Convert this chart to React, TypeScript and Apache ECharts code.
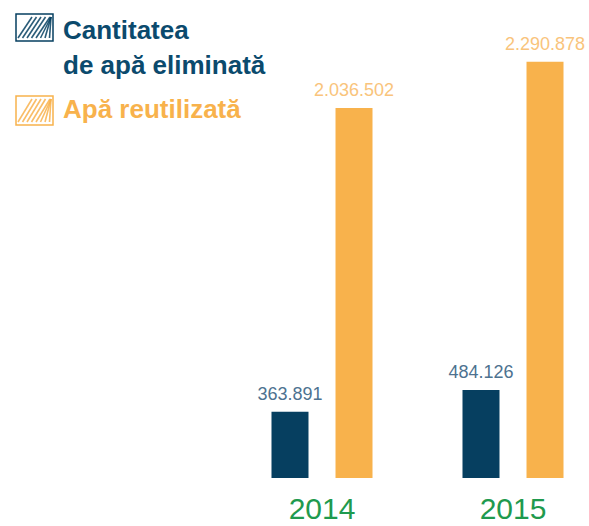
import React, { useEffect, useRef } from "react";
import * as echarts from "echarts";

const years = ["2014", "2015"];
const eliminated = [363891, 484126];
const reused = [2036502, 2290878];
const legendNames = ["Cantitatea\nde apă eliminată", "Apă reutilizată"];

const DARK = "#063f60";
const ORANGE = "#f8b24c";
const DARK_TEXT = "#0b4a6d";
const DARK_LABEL = "#4d7290";
const ORANGE_LABEL = "#f9c47c";
const GREEN = "#1f9a4e";

const fmt = (v: number) => v.toLocaleString("de-DE");

function hatchIcon(x: number, y: number, w: number, h: number, color: string) {
  const children: any[] = [
    { type: "rect", shape: { x, y, width: w, height: h }, style: { fill: "none", stroke: color, lineWidth: 1.5 } },
  ];
  for (let i = 0; i < 8; i++) {
    const x0 = x + 2 + i * 4.5;
    children.push({
      type: "line",
      shape: { x1: x0, y1: y + h - 3, x2: Math.min(x0 + 14, x + w - 2), y2: y + 3 },
      style: { stroke: color, lineWidth: 1.6, opacity: 0.85 },
    });
  }
  return { type: "group", children };
}

export default function App() {
  const ref = useRef<HTMLDivElement>(null);
  useEffect(() => {
    const chart = echarts.init(ref.current!, undefined, { renderer: "svg" });
    chart.setOption({
      animation: false,
      grid: { left: 322, right: 76, top: 60, bottom: 48, containLabel: false },
      xAxis: {
        type: "category",
        data: years,
        boundaryGap: false,
        axisLine: { show: false },
        axisTick: { show: false },
        splitLine: { show: false },
        axisLabel: {
          color: GREEN,
          fontSize: 30,
          fontFamily: "Liberation Sans",
          margin: 15,
        },
      },
      yAxis: { type: "value", min: 0, max: 2300000, show: false, splitLine: { show: false } },
      series: [
        {
          name: legendNames[0],
          type: "bar",
          data: eliminated,
          barWidth: 37,
          barGap: "73%",
          itemStyle: { color: DARK },
          label: {
            show: true,
            position: "top",
            distance: 9,
            color: DARK_LABEL,
            fontSize: 18,
            fontFamily: "Liberation Sans",
            formatter: (p: any) => fmt(p.value),
          },
        },
        {
          name: legendNames[1],
          type: "bar",
          data: reused,
          barWidth: 37,
          barGap: "73%",
          itemStyle: { color: ORANGE },
          label: {
            show: true,
            position: "top",
            distance: 9,
            color: ORANGE_LABEL,
            fontSize: 18,
            fontFamily: "Liberation Sans",
            formatter: (p: any) => fmt(p.value),
          },
        },
      ],
      graphic: [
        hatchIcon(16, 14, 37, 27, DARK),
        hatchIcon(16, 96, 37, 29, ORANGE),
        {
          type: "text",
          x: 63,
          y: 30,
          style: {
            text: "Cantitatea",
            fill: DARK_TEXT,
            font: "bold 26px 'Liberation Sans'",
            verticalAlign: "middle",
          },
        },
        {
          type: "text",
          x: 63,
          y: 65,
          style: {
            text: "de apă eliminată",
            fill: DARK_TEXT,
            font: "bold 26px 'Liberation Sans'",
            verticalAlign: "middle",
          },
        },
        {
          type: "text",
          x: 63,
          y: 109,
          style: {
            text: "Apă reutilizată",
            fill: ORANGE,
            font: "bold 26px 'Liberation Sans'",
            verticalAlign: "middle",
          },
        },
      ],
    });
    return () => chart.dispose();
  }, []);
  return <div ref={ref} style={{ position: "absolute", left: 0, top: 0, width: 589, height: 526 }} />;
}
